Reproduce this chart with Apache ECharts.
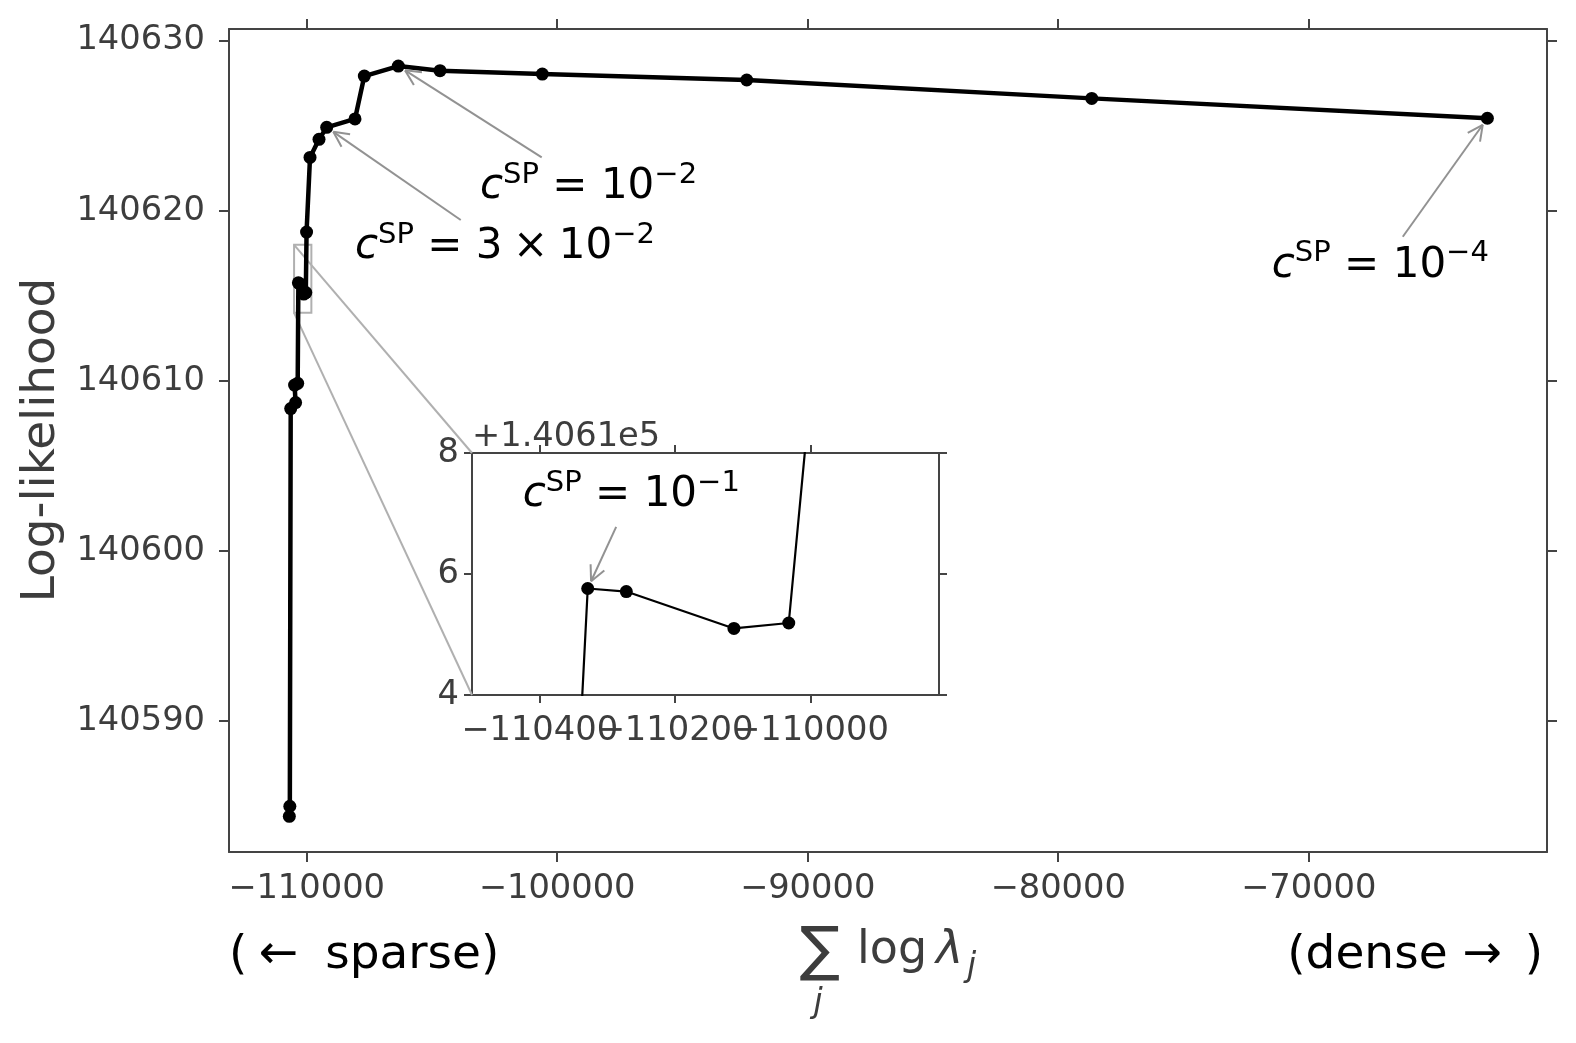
<!DOCTYPE html>
<html>
<head>
<meta charset="utf-8">
<script src="https://cdn.jsdelivr.net/npm/echarts@6/dist/echarts.min.js"></script>
<style>
  html, body { margin: 0; padding: 0; background: #fff; }
  #main { width: 1576px; height: 1043px; }
</style>
</head>
<body>
<div id="main"></div>
<script>
// path of the regularisation sweep, from sparse (bottom left) to dense (right)
const sumLogLambda = [
  -110690, -110670, -110635, -110440, -110480, -110356,
  -110329, -110272, -110113, -110032, -110002, -109864,
  -109505, -109198, -108068, -107696, -106339, -104675,
  -100591, -92431, -78659, -62867
];
const logLikelihood = [
  140584.39, 140584.98, 140608.37, 140608.72, 140609.75, 140609.85,
  140615.76, 140615.71, 140615.10, 140615.19, 140618.75, 140623.14,
  140624.20, 140624.91, 140625.40, 140627.92, 140628.51, 140628.24,
  140628.04, 140627.69, 140626.61, 140625.44
];

const xTicks = [-110000, -100000, -90000, -80000, -70000];
const yTicks = [140590, 140600, 140610, 140620, 140630];
const xRange = [-113098, -60487];
const yRange = [140582.29, 140630.69];

// zoomed inset
const insetXTicks = [-110400, -110200, -110000];
const insetYTicks = [140614, 140616, 140618];
const insetXRange = [-110500, -109810];
const insetYRange = [140614, 140618];
const insetOffset = 140610;
const insetOffsetLabel = '+1.4061e5';

// annotations: point index, coefficient prefix, exponent
const annIndex = [16, 13, 21, 6];
const annCoef = ['', '3\u2005\u00d7\u2005', '', ''];
const annExp = ['\u22122', '\u22122', '\u22124', '\u22121'];

const points = sumLogLambda.map((x, i) => [x, logLikelihood[i]]);

const ink = '#3d3d3d';
const spine = '#444444';
const font = 'DejaVu Sans';

function minus(v) {
  return v < 0 ? '\u2212' + Math.abs(v) : String(v);
}

function axisOf(grid, range, ticks, pos, showLabel, fmt, tickLen, margin, extra) {
  return Object.assign({
    gridIndex: grid, type: 'value', position: pos, min: range[0], max: range[1],
    axisLine: { show: true, onZero: false, lineStyle: { color: spine, width: 2 } },
    axisTick: { show: true, customValues: ticks, length: tickLen, lineStyle: { color: spine, width: 2 } },
    axisLabel: {
      show: showLabel, customValues: ticks, formatter: fmt, margin: margin,
      showMinLabel: true, showMaxLabel: true, hideOverlap: false,
      fontFamily: font, fontSize: 33.7, color: ink,
      padding: (pos === 'left' || pos === 'right') ? [4, 0, 0, 0] : 0
    },
    splitLine: { show: false }
  }, extra || {});
}

// the inset tick labels overlap each other, as in the original; the middle one
// lives on an overlay grid so that the label layout does not drop it
const insetMidTick = [insetXTicks[1]];
const insetOuterTicks = [insetXTicks[0], insetXTicks[2]];

const insetRect = { left: 472, top: 453, width: 467, height: 242 };

const chart = echarts.init(document.getElementById('main'));
chart.setOption({
  animation: false,
  backgroundColor: '#fff',
  grid: [
    { left: 229, top: 29, width: 1318, height: 823 },
    Object.assign({ show: true, backgroundColor: '#fff', borderWidth: 0 }, insetRect),
    Object.assign({ show: false }, insetRect)
  ],
  xAxis: [
    axisOf(0, xRange, xTicks, 'bottom', true, minus, 10, 20),
    axisOf(0, xRange, xTicks, 'top', false, minus, 10, 20),
    axisOf(1, insetXRange, insetXTicks, 'bottom', true, minus, 8, 19, {
      axisLabel: {
        customValues: insetOuterTicks, formatter: minus, margin: 19,
        showMinLabel: true, showMaxLabel: true, fontFamily: font, fontSize: 33.7, color: ink
      }
    }),
    axisOf(1, insetXRange, insetXTicks, 'top', false, minus, 8, 19),
    axisOf(2, insetXRange, insetMidTick, 'bottom', true, minus, 8, 19, {
      axisLine: { show: false }, axisTick: { show: false }
    })
  ],
  yAxis: [
    axisOf(0, yRange, yTicks, 'left', true, v => String(v), 10, 24),
    axisOf(0, yRange, yTicks, 'right', false, v => String(v), 10, 24),
    axisOf(1, insetYRange, insetYTicks, 'left', true, v => String(Math.round(v - insetOffset)), 8, 13, {
      name: insetOffsetLabel, nameLocation: 'end', nameGap: -1,
      nameTextStyle: { align: 'left', verticalAlign: 'bottom', fontFamily: font, fontSize: 33.7, color: ink }
    }),
    axisOf(1, insetYRange, insetYTicks, 'right', false, v => String(v), 8, 13),
    { gridIndex: 2, type: 'value', min: insetYRange[0], max: insetYRange[1], show: false }
  ],
  series: [
    {
      type: 'line', xAxisIndex: 0, yAxisIndex: 0, data: points,
      symbol: 'circle', symbolSize: 13, showAllSymbol: true,
      lineStyle: { color: '#000', width: 4.5 }, itemStyle: { color: '#000' }, z: 3
    },
    {
      type: 'line', xAxisIndex: 2, yAxisIndex: 2, data: points, clip: true,
      symbol: 'circle', symbolSize: 13, showAllSymbol: true,
      lineStyle: { color: '#000', width: 2.2 }, itemStyle: { color: '#000' }, z: 5
    }
  ]
});

// ---- annotations, zoom box, labels ----
// text anchor (left, baseline) and arrow tail in data coordinates of the axes they sit in
const annTextAt = [[-103078, 140620.63], [-108072, 140617.10], [-71473, 140616.03], [-110425, 140617.09]];
const annTail = [[-100615, 140623.14], [-103848, 140619.46], [-66244, 140618.47], [-110287, 140616.78]];
const annSeries = [0, 0, 0, 1];

function px(seriesIndex, pt) {
  return chart.convertToPixel({ seriesIndex: seriesIndex }, pt);
}

function arrowParts(from, to, shrink, color) {
  const dx = to[0] - from[0], dy = to[1] - from[1];
  const len = Math.hypot(dx, dy);
  const ux = dx / len, uy = dy / len;
  const tip = [to[0] - ux * shrink, to[1] - uy * shrink];
  const head = 17, a = 0.46;
  const wing = s => {
    const c = Math.cos(s * a), sn = Math.sin(s * a);
    const rx = ux * c - uy * sn, ry = ux * sn + uy * c;
    return [tip[0] - rx * head, tip[1] - ry * head];
  };
  const st = { stroke: color, lineWidth: 2 };
  const w1 = wing(1), w2 = wing(-1);
  return [
    { type: 'line', shape: { x1: from[0], y1: from[1], x2: tip[0], y2: tip[1] }, style: st, z: 20 },
    { type: 'line', shape: { x1: tip[0], y1: tip[1], x2: w1[0], y2: w1[1] }, style: st, z: 20 },
    { type: 'line', shape: { x1: tip[0], y1: tip[1], x2: w2[0], y2: w2[1] }, style: st, z: 20 }
  ];
}

const annRich = {
  c: { fontFamily: font, fontStyle: 'italic', fontSize: 42, fill: '#000' },
  sup: { fontFamily: font, fontSize: 29, padding: [0, 0, 24, 0], fill: '#000' },
  n: { fontFamily: font, fontSize: 42, fill: '#000' }
};

const graphics = [];
annIndex.forEach((idx, k) => {
  const s = annSeries[k];
  const target = px(s, points[idx]);
  const tail = px(s, annTail[k]);
  const at = px(s, annTextAt[k]);
  graphics.push(...arrowParts(tail, target, 8, '#929292'));
  graphics.push({
    type: 'text', z: 21,
    style: {
      x: at[0], y: at[1] + 14, verticalAlign: 'bottom', align: 'left',
      text: '{c|c}{sup|SP}{n| = ' + annCoef[k] + '10}{sup|' + annExp[k] + '}',
      rich: annRich
    }
  });
});

// zoom box on the main axes and connectors to the inset
const boxTL = px(0, [insetXRange[0], insetYRange[1]]);
const boxBR = px(0, [insetXRange[1], insetYRange[0]]);
const insTL = px(1, [insetXRange[0], insetYRange[1]]);
const insBL = px(1, [insetXRange[0], insetYRange[0]]);
const boxStyle = { stroke: '#b0b0b0', lineWidth: 2, fill: null };
graphics.push(
  { type: 'rect', shape: { x: boxTL[0], y: boxTL[1], width: boxBR[0] - boxTL[0], height: boxBR[1] - boxTL[1] }, style: boxStyle, z: 2 },
  { type: 'line', shape: { x1: boxTL[0], y1: boxTL[1], x2: insTL[0], y2: insTL[1] }, style: boxStyle, z: 2 },
  { type: 'line', shape: { x1: boxTL[0], y1: boxBR[1], x2: insBL[0], y2: insBL[1] }, style: boxStyle, z: 2 }
);

// axis titles
graphics.push(
  { type: 'text', x: 42, y: 440, rotation: Math.PI / 2,
    style: { text: 'Log-likelihood', align: 'center', verticalAlign: 'middle', fontFamily: font, fontSize: 47, fill: ink } },
  { type: 'text', style: { x: 229, y: 956, text: '(\u2005\u2190\u2005 sparse)', align: 'left', verticalAlign: 'middle', fontFamily: font, fontSize: 47, fill: '#000' } },
  { type: 'text', style: { x: 1543, y: 956, text: '(dense \u2192 \u2006)', align: 'right', verticalAlign: 'middle', fontFamily: font, fontSize: 47, fill: '#000' } },
  { type: 'text', style: { x: 820, y: 953, text: '\u2211', align: 'center', verticalAlign: 'middle', fontFamily: font, fontSize: 60, fill: ink } },
  { type: 'text', style: { x: 818, y: 1003, text: 'j', align: 'center', verticalAlign: 'middle', fontFamily: font, fontStyle: 'italic', fontSize: 33, fill: ink } },
  { type: 'text', style: { x: 857, y: 951, text: 'log', align: 'left', verticalAlign: 'middle', fontFamily: font, fontSize: 46, fill: ink } },
  { type: 'text', style: { x: 936, y: 951, text: '\u03bb', align: 'left', verticalAlign: 'middle', fontFamily: font, fontStyle: 'italic', fontSize: 46, fill: ink } },
  { type: 'text', style: { x: 967, y: 967, text: 'j', align: 'left', verticalAlign: 'middle', fontFamily: font, fontStyle: 'italic', fontSize: 33, fill: ink } }
);

chart.setOption({ graphic: graphics });
</script>
</body>
</html>
